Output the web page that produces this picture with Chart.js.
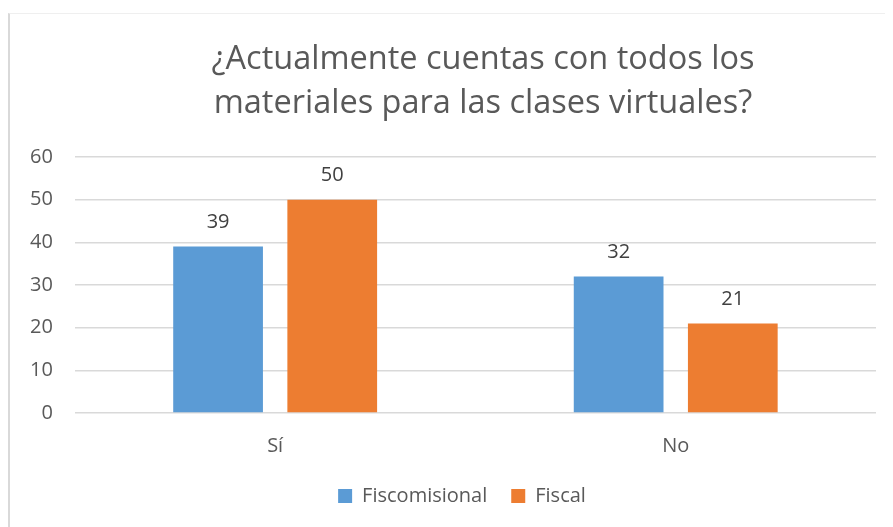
<!DOCTYPE html>
<html><head><meta charset="utf-8">
<script src="https://cdn.jsdelivr.net/npm/chart.js@4/dist/chart.umd.min.js"></script>
<style>
html,body{margin:0;padding:0;background:#fff;}
#frame{position:absolute;left:8px;top:13px;width:875px;height:520px;border-left:2px solid #d9d9d9;border-top:1px solid #efefef;}
#wrap{position:absolute;left:0;top:0;width:893px;height:527px;}
</style></head>
<body>
<div id="frame"></div>
<div id="wrap"><canvas id="c" width="893" height="527"></canvas></div>
<script>
const categories = ["Sí", "No"];
const fiscomisional = [39, 32];
const fiscal = [50, 21];
const seriesNames = ["Fiscomisional", "Fiscal"];
const yTicks = [0, 10, 20, 30, 40, 50, 60];
const titleLines = ["¿Actualmente cuentas con todos los", "materiales para las clases virtuales?"];

const FONT = "'Open Sans', 'Noto Sans', sans-serif";

const labelPlugin = {
  id: 'barLabels',
  afterLayout(chart) {
    if (chart.titleBlock) { chart.titleBlock.left += 82; }
    if (chart.legend) {
      chart.legend.left += 40;
      chart.legend.top -= 17;
      chart.legend.bottom -= 17;
    }
  },
  afterDatasetsDraw(chart) {
    const ctx = chart.ctx;
    ctx.save();
    ctx.font = "20px " + FONT;
    ctx.fillStyle = "#404040";
    ctx.textAlign = "center";
    ctx.textBaseline = "middle";
    chart.data.datasets.forEach((ds, i) => {
      chart.getDatasetMeta(i).data.forEach((bar, j) => {
        ctx.fillText(String(ds.data[j]), bar.x, bar.y - 24);
      });
    });
    ctx.restore();
  }
};

new Chart(document.getElementById('c'), {
  type: 'bar',
  data: {
    labels: categories,
    datasets: [
      { label: seriesNames[0], data: fiscomisional, backgroundColor: '#5B9BD5', categoryPercentage: 0.57, barPercentage: 0.786 },
      { label: seriesNames[1], data: fiscal, backgroundColor: '#ED7D31', categoryPercentage: 0.57, barPercentage: 0.786 }
    ]
  },
  options: {
    responsive: false,
    animation: false,
    devicePixelRatio: 1,
    layout: { padding: { left: 8, right: 17, top: 38, bottom: -6 } },
    plugins: {
      title: {
        display: true,
        text: titleLines,
        color: '#595959',
        font: { family: FONT, size: 32.5, weight: 'normal', lineHeight: 1.354 },
        padding: { top: 0, bottom: 31 }
      },
      legend: {
        position: 'bottom',
        labels: {
          color: '#595959',
          font: { family: FONT, size: 20 },
          boxWidth: 14, boxHeight: 14, padding: 24
        }
      },
      tooltip: { enabled: false }
    },
    scales: {
      x: {
        grid: { display: false, drawTicks: false },
        border: { display: false },
        ticks: { color: '#595959', font: { family: FONT, size: 20 }, padding: 21 }
      },
      y: {
        min: 0, max: 60,
        afterBuildTicks(axis) { axis.ticks = yTicks.map(v => ({ value: v })); },
        grid: { color: '#d9d9d9', lineWidth: 1.5, drawTicks: false },
        border: { display: false },
        ticks: { color: '#595959', font: { family: FONT, size: 20 }, padding: 22 }
      }
    }
  },
  plugins: [labelPlugin]
});
</script>
</body></html>
